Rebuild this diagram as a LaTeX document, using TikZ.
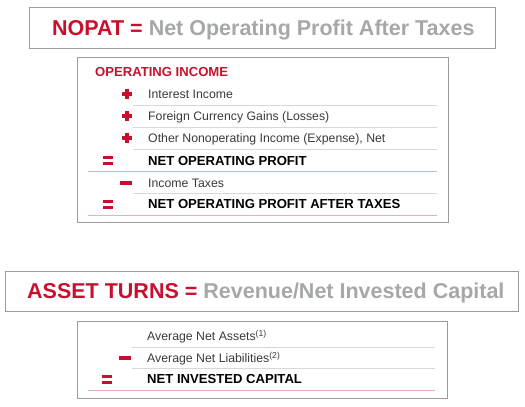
\documentclass[tikz,border=0pt]{standalone}
\usepackage{fontspec}
\setmainfont{Liberation Sans}
\definecolor{nred}{HTML}{C8102E}
\definecolor{ngray}{HTML}{A5A7AA}
\definecolor{nbody}{HTML}{3A3A3A}
\definecolor{nborder}{HTML}{9C9C9C}
\definecolor{nsep}{HTML}{D8D8D8}
\definecolor{npink}{HTML}{E8AEB8}
\tikzset{
  plussign/.pic={\fill[nred] (-5,-1.8) rectangle (5,1.8); \fill[nred] (-1.8,-5) rectangle (1.8,5);},
  minussign/.pic={\fill[nred] (-6,-2) rectangle (6,2);},
  eqsign/.pic={\fill[nred] (-5,-4.5) rectangle (5,-1.5); \fill[nred] (-5,1.5) rectangle (5,4.5);},
  boxframe/.style={draw=nborder, line width=0.9pt, inner sep=0pt},
  titletext/.style={anchor=base west, inner sep=0pt, font=\bfseries\fontsize{21.5}{24}\selectfont},
  bodytext/.style={anchor=base west, inner sep=0pt, text=nbody, font=\fontsize{12.3}{14}\selectfont},
  boldtext/.style={anchor=base west, inner sep=0pt, text=black, font=\bfseries\fontsize{13.1}{15}\selectfont},
  sepline/.style={draw=nsep, line width=0.8pt},
  pinkline/.style={draw=npink, line width=0.9pt},
}
\begin{document}
\begin{tikzpicture}[x=1pt,y=-1pt]
\useasboundingbox (0,0) rectangle (525,407);
% ---------- top block ----------
\node[boxframe, minimum width=466pt, minimum height=41pt] (t1) at (262,27.5) {};
\node[titletext] (t1txt) at (52,35.2) {\textcolor{nred}{NOPAT =} \textcolor{ngray}{Net Operating Profit After Taxes}};
\node[boxframe, minimum width=371pt, minimum height=165pt] (b1) at (262.5,139.5) {};
\node[boldtext, text=nred] (oi) at (95,76.7) {OPERATING INCOME};
\node[bodytext] (r1) at (148,98.4) {Interest Income};
\node[bodytext] (r2) at (148,120.4) {Foreign Currency Gains (Losses)};
\node[bodytext] (r3) at (148,142.4) {Other Nonoperating Income (Expense), Net};
\node[boldtext] (r4) at (148,165.2) {NET OPERATING PROFIT};
\node[bodytext] (r5) at (148,187.4) {Income Taxes};
\node[boldtext] (r6) at (148,208.7) {NET OPERATING PROFIT AFTER TAXES};
\pic at (127,94) {plussign};
\pic at (127,116) {plussign};
\pic at (127,138) {plussign};
\pic at (108,160.5) {eqsign};
\pic at (126,183) {minussign};
\pic at (108,204) {eqsign};
\coordinate (s1a) at (133,105); \coordinate (s1b) at (437,105);
\coordinate (s2a) at (133,127); \coordinate (s2b) at (437,127);
\coordinate (s3a) at (133,149); \coordinate (s3b) at (437,149);
\coordinate (s4a) at (88,171);  \coordinate (s4b) at (437,171);
\coordinate (s5a) at (133,193); \coordinate (s5b) at (437,193);
\coordinate (s6a) at (88,215);  \coordinate (s6b) at (437,215);
\draw[sepline] (s1a) -- (s1b);
\draw[sepline] (s2a) -- (s2b);
\draw[sepline] (s3a) -- (s3b);
\draw[pinkline] (s4a) -- (s4b);
\draw[sepline] (s5a) -- (s5b);
\draw[pinkline] (s6a) -- (s6b);
% ---------- bottom block ----------
\node[boxframe, minimum width=513pt, minimum height=40pt] (t2) at (261.5,291) {};
\node[titletext] (t2txt) at (27,298.7) {\textcolor{nred}{ASSET TURNS =} \textcolor{ngray}{Revenue/Net Invested Capital}};
\node[boxframe, minimum width=370pt, minimum height=77pt] (b2) at (262,359.5) {};
\node[bodytext] (q1) at (147,340.4) {Average Net Assets\textsuperscript{(1)}};
\node[bodytext] (q2) at (147,362.4) {Average Net Liabilities\textsuperscript{(2)}};
\node[boldtext] (q3) at (147,383.7) {NET INVESTED CAPITAL};
\pic at (125,358) {minussign};
\pic at (107,379) {eqsign};
\coordinate (u1a) at (132,347); \coordinate (u1b) at (435,347);
\coordinate (u2a) at (132,368); \coordinate (u2b) at (435,368);
\coordinate (u3a) at (88,390);  \coordinate (u3b) at (435,390);
\draw[sepline] (u1a) -- (u1b);
\draw[sepline] (u2a) -- (u2b);
\draw[pinkline] (u3a) -- (u3b);
\end{tikzpicture}
\end{document}
